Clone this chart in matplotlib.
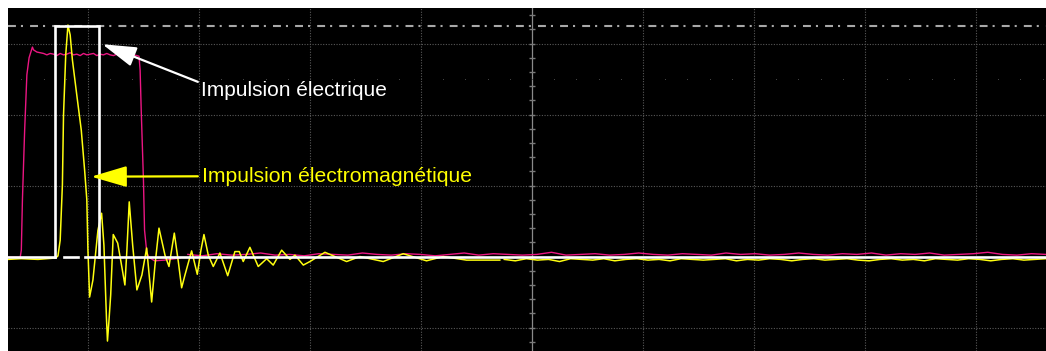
import numpy as np
import matplotlib
matplotlib.use("Agg")
from matplotlib import pyplot as plt
from matplotlib.patches import FancyArrowPatch

# everything is in screen divisions, (0, 0) = centre column / trace baseline

# magenta : electrical pulse
mag_t = [-4.72, -4.61, -4.60, -4.59, -4.57, -4.55, -4.53, -4.50, -4.49, -4.46,
         -4.43, -4.40, -4.37, -4.34, -4.31, -4.28, -4.25, -4.22, -4.19, -4.16,
         -4.13, -4.10, -4.07, -4.04, -4.01, -3.98, -3.95, -3.92, -3.89, -3.86,
         -3.83, -3.80, -3.77, -3.74, -3.71, -3.68, -3.65, -3.62, -3.59, -3.56,
         -3.54, -3.53, -3.52, -3.50, -3.49, -3.47, -3.45, -3.40, -3.31, -3.17]
mag_v = [-0.01, -0.01, 0.09, 0.80, 1.78, 2.56, 2.80, 2.95, 2.91, 2.88,
         2.87, 2.86, 2.84, 2.86, 2.85, 2.83, 2.86, 2.84, 2.85, 2.87,
         2.84, 2.85, 2.83, 2.86, 2.84, 2.85, 2.86, 2.83, 2.85, 2.84,
         2.86, 2.84, 2.83, 2.85, 2.84, 2.86, 2.83, 2.85, 2.84, 2.83,
         2.82, 2.63, 2.06, 1.08, 0.37, 0.06, -0.01, -0.06, -0.05, -0.02]
mag_tail = [0.03, 0.01, 0.04, 0.02, 0.03, 0.05, 0.02, 0.03, 0.01, 0.04,
            0.03, 0.02, 0.05, 0.03, 0.02, 0.04, 0.03, 0.01, 0.03, 0.05,
            0.02, 0.04, 0.03, 0.02, 0.03, 0.06, 0.02, 0.03, 0.04, 0.02,
            0.03, 0.05, 0.03, 0.02, 0.04, 0.03, 0.02, 0.05, 0.03, 0.04,
            0.02, 0.03, 0.05, 0.03, 0.02, 0.04, 0.03, 0.05, 0.02, 0.04,
            0.03, 0.05, 0.02, 0.03, 0.04, 0.06, 0.03, 0.02, 0.04, 0.03]

# yellow : electromagnetic pulse (damped ringing)
yel_t = [-4.72, -4.60, -4.45, -4.29, -4.27, -4.25, -4.23, -4.22, -4.20, -4.18,
         -4.16, -4.14, -4.10, -4.06, -4.03, -4.01, -4.00, -3.985, -3.955, -3.91,
         -3.877, -3.856, -3.833, -3.824, -3.81, -3.795, -3.772, -3.732, -3.703, -3.667,
         -3.649, -3.628, -3.597, -3.559, -3.514, -3.471, -3.426, -3.396, -3.360, -3.306,
         -3.270, -3.222, -3.186, -3.156, -3.126, -3.066, -3.015, -2.982, -2.955, -2.916,
         -2.871, -2.811, -2.741, -2.676, -2.637, -2.601, -2.541, -2.466, -2.390, -2.331,
         -2.255, -2.180, -2.135, -2.060, -2.000, -1.865, -1.67, -1.55, -1.34, -1.16,
         -0.95, -0.80, -0.59, -0.29]
yel_v = [-0.04, -0.03, -0.04, -0.02, 0.01, 0.23, 1.01, 1.99, 2.84, 3.26,
         3.12, 2.77, 2.27, 1.78, 1.22, 0.80, 0.09, -0.57, -0.33, 0.37,
         0.61, 0.16, -0.87, -1.19, -0.89, -0.54, 0.31, 0.19, -0.07, -0.40,
         0.09, 0.77, 0.16, -0.47, -0.26, 0.12, -0.64, -0.12, 0.40, 0.02,
         -0.14, 0.33, -0.07, -0.44, -0.26, 0.08, -0.25, 0.09, 0.31, 0.02,
         -0.14, 0.05, -0.27, 0.07, 0.07, -0.07, 0.13, -0.14, -0.03, -0.12,
         0.09, -0.04, 0.02, -0.12, -0.07, 0.06, -0.07, 0.00, -0.07, 0.04,
         -0.06, 0.00, -0.05, -0.05]
yel_tail = [-0.04, -0.06, -0.03, -0.05, -0.04, -0.07, -0.03, -0.04, -0.05, -0.03,
            -0.06, -0.04, -0.03, -0.05, -0.04, -0.06, -0.03, -0.04, -0.05, -0.04,
            -0.03, -0.06, -0.04, -0.05, -0.03, -0.04, -0.06, -0.04, -0.03, -0.05,
            -0.04, -0.03, -0.05, -0.06, -0.04, -0.03, -0.05, -0.04, -0.06, -0.03,
            -0.04, -0.05, -0.03, -0.04, -0.06, -0.04, -0.03, -0.05, -0.04, -0.03]

# white : reference rectangle pulse
wht_t = [-4.72, -4.30, -4.30, -3.90, -3.90, 4.63]
wht_v = [0.0, 0.0, 3.24, 3.24, 0.0, 0.0]
wht_gap_t = [[-4.22, -4.09], [-4.03, -3.91]]

trigger_level = 3.24
half_div_row = 2.5

fig = plt.figure(figsize=(10.46, 3.51), dpi=100)
fig.patch.set_facecolor('white')
ax = fig.add_axes([8 / 1046, 0, 1038 / 1046, 343 / 351])
ax.set_facecolor('black')
ax.set_xlim(-4.72, 4.63)
ax.set_ylim(-1.33, 3.50)
ax.set_xticks([])
ax.set_yticks([])
for s in ax.spines.values():
    s.set_visible(False)

# graticule
grid_kw = dict(color='#595959', lw=0.8, ls=(0, (1, 1.4)), zorder=1)
for gx in [-4, -3, -2, -1, 1, 2, 3, 4]:
    ax.axvline(gx, **grid_kw)
for gy in [-1, 1, 2, 3]:
    ax.axhline(gy, **grid_kw)
ax.axvline(0, color='#8a8a8a', lw=0.9, zorder=1.5)
ticks_y = np.arange(-1.2, 3.5, 0.2)
ax.hlines(ticks_y, -0.024, 0.024, color='#7a7a7a', lw=1.0, zorder=1.5)
dots_x = np.arange(-4.6, 4.7, 0.2)
ax.plot(dots_x, np.full_like(dots_x, half_div_row), ls='none', marker='s',
        ms=0.6, mew=0, color='#4a4a4a', zorder=1.5)
ax.axhline(trigger_level, color='#a8a8a8', lw=1.5,
           ls=(0, (3.8, 2.4, 1.0, 3.4)), zorder=1.6)

# traces
ax.plot(mag_t, mag_v, color='#ec1683', lw=1.0, zorder=3)
ax.plot(np.linspace(-3.10, 4.63, len(mag_tail)), mag_tail, color='#ec1683',
        lw=1.0, zorder=3)
ax.plot(yel_t, yel_v, color='#ffff10', lw=1.1, zorder=4)
ax.plot(np.linspace(-0.25, 4.63, len(yel_tail)), yel_tail, color='#ffff10',
        lw=1.1, zorder=4)
ax.plot(wht_t[:2], wht_v[:2], color='white', lw=1.9, zorder=5,
        solid_joinstyle='miter')
ax.plot(wht_t[1:5], wht_v[1:5], color='white', lw=1.9, zorder=5,
        solid_joinstyle='miter')
ax.plot(wht_t[4:], wht_v[4:], color='white', lw=1.9, zorder=5)
for seg in wht_gap_t:
    ax.plot(seg, [0.0, 0.0], color='white', lw=1.9, zorder=5)

# annotations
fnt = ['Liberation Sans', 'DejaVu Sans']
ax.text(-2.985, 2.26, 'Impulsion électrique', color='white', fontsize=15,
        family=fnt, ha='left', va='baseline', zorder=6)
ax.text(-2.97, 1.045, 'Impulsion électromagnétique', color='#ffff00',
        fontsize=15.2, family=fnt, ha='left', va='baseline', zorder=6)

ax.add_patch(FancyArrowPatch((-3.01, 2.46), (-3.87, 2.99),
                             arrowstyle='-|>,head_length=21,head_width=6.2',
                             mutation_scale=1, color='white', lw=1.6,
                             shrinkA=0, shrinkB=0, zorder=6))
ax.add_patch(FancyArrowPatch((-3.01, 1.13), (-3.97, 1.125),
                             arrowstyle='-|>,head_length=22,head_width=6.5',
                             mutation_scale=1, color='#ffff00', lw=1.6,
                             shrinkA=0, shrinkB=0, zorder=6))

fig.savefig('out.png', dpi=100, facecolor=fig.get_facecolor())
